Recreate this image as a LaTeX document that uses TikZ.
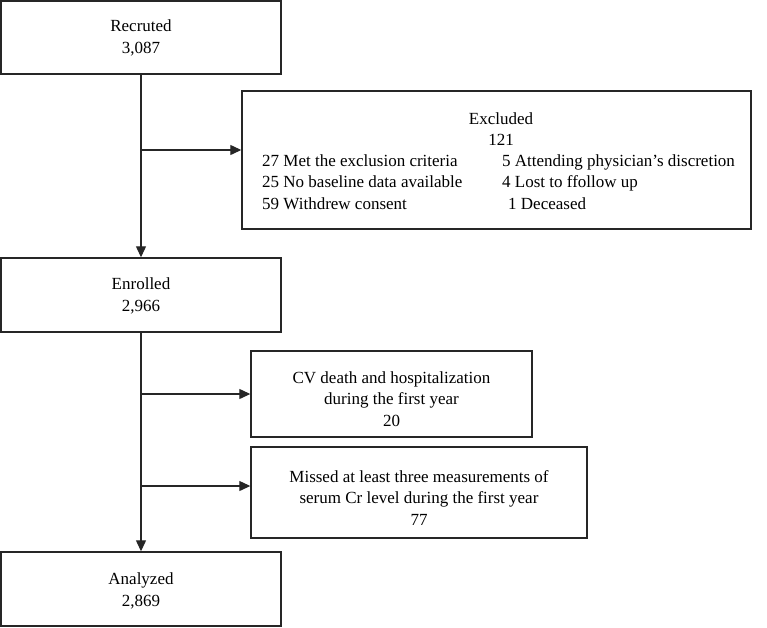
\documentclass[tikz,border=0pt]{standalone}
\usepackage{fontspec}
\setmainfont{Liberation Serif}
\usetikzlibrary{arrows.meta}
\begin{document}
\begin{tikzpicture}[x=1pt,y=1pt,
  box/.style={draw=black!85,line width=1.4pt,minimum width=#1,inner sep=0pt,fill=none},
  txt/.style={font=\fontsize{17}{21.5}\selectfont,align=center,inner sep=0pt},
  ltx/.style={font=\fontsize{17}{21.5}\selectfont,inner sep=0pt,anchor=base west},
  arr/.style={draw=black!85,line width=1.2pt,-{Triangle[length=11pt,width=10pt]}},
  ln/.style={draw=black!85,line width=1.2pt}]
\useasboundingbox (0,0) rectangle (767,-627);
% boxes
\node[box=280pt,minimum height=73pt] (rec) at (141,-37.5) {};
\node[box=509pt,minimum height=138pt] (exc) at (496.5,-160) {};
\node[box=280pt,minimum height=74pt] (enr) at (141,-295) {};
\node[box=281pt,minimum height=86pt] (cv) at (391.5,-394) {};
\node[box=336pt,minimum height=91pt] (miss) at (419,-492.5) {};
\node[box=280pt,minimum height=74pt] (ana) at (141,-589) {};
% texts
\node[txt] (trec) at (141,-38) {Recruted\\3,087};
\node[txt] (tenr) at (141,-296) {Enrolled\\2,966};
\node[txt] (tana) at (141,-591) {Analyzed\\2,869};
\node[txt] (tcv) at (391.5,-399) {CV death and hospitalization\\during the first year\\20};
\node[txt] (tmiss) at (419,-498) {Missed at least three measurements of\\serum Cr level during the first year\\77};
\node[txt] (texc) at (501,-129) {Excluded\\121};
\node[ltx] (e1) at (262,-166) {27 Met the exclusion criteria};
\node[ltx] (e2) at (262,-187.5) {25 No baseline data available};
\node[ltx] (e3) at (262,-209) {59 Withdrew consent};
\node[ltx] (e4) at (502,-166) {5 Attending physician’s discretion};
\node[ltx] (e5) at (502,-187.5) {4 Lost to ffollow up};
\node[ltx] (e6) at (508,-209) {1 Deceased};
% connectors
\coordinate (b1) at (141,-150);
\coordinate (b2) at (141,-394);
\coordinate (b3) at (141,-486);
\draw[arr] (rec.south) -- (enr.north);
\draw[arr] (enr.south) -- (ana.north);
\draw[arr] (b1) -- (b1 -| exc.west);
\draw[arr] (b2) -- (b2 -| cv.west);
\draw[arr] (b3) -- (b3 -| miss.west);
\end{tikzpicture}
\end{document}
